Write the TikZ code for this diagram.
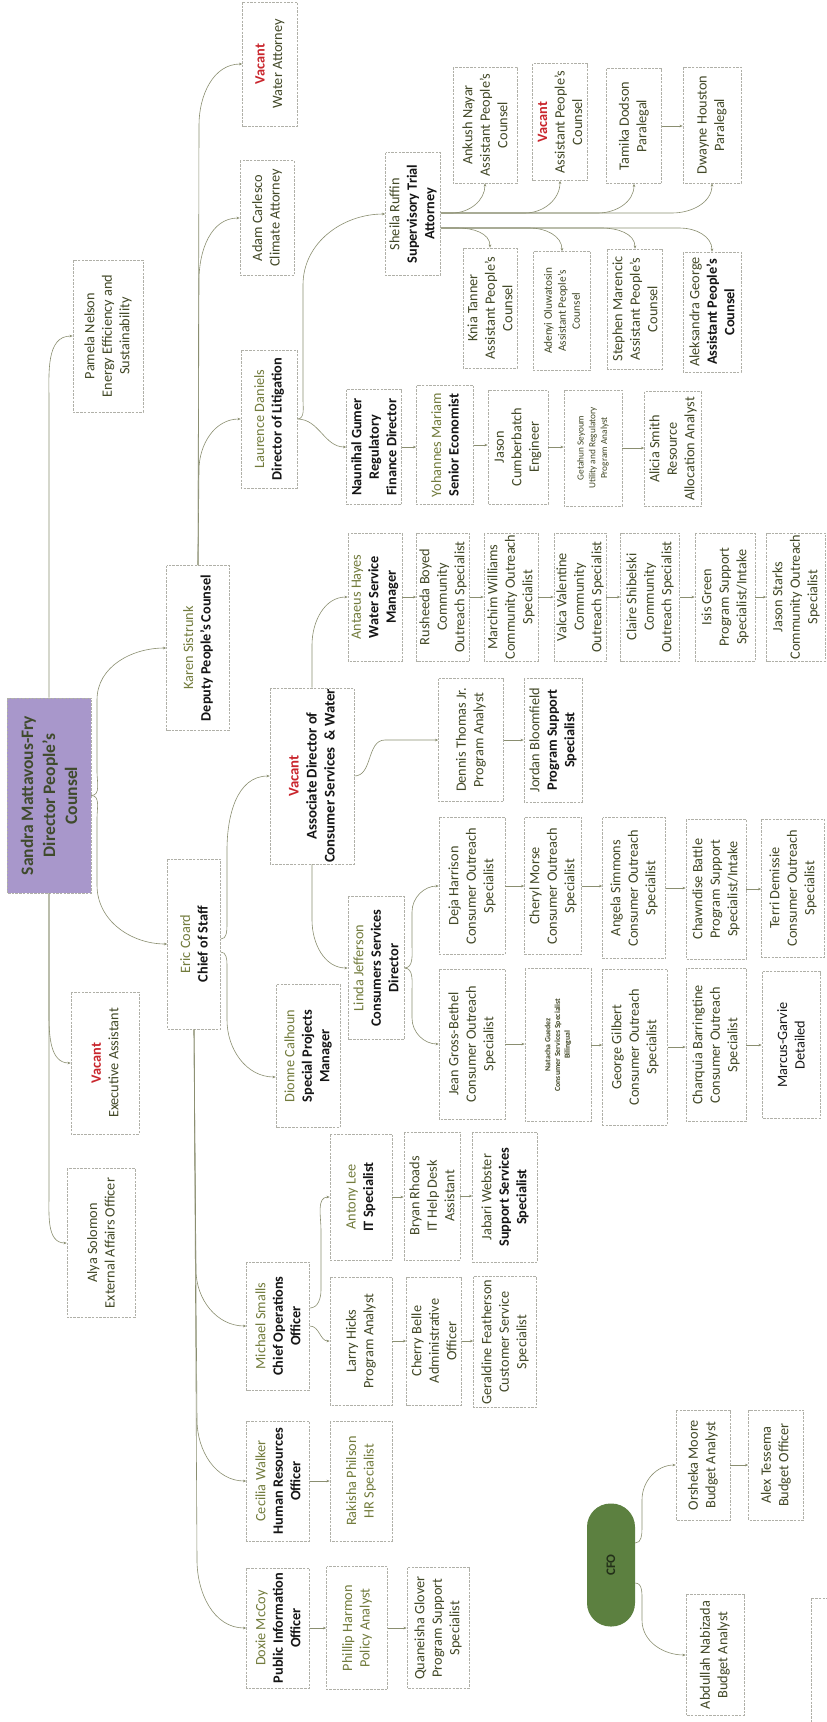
\documentclass[tikz,border=0pt]{standalone}
\usepackage{fontspec}
\setmainfont{Carlito}
\usetikzlibrary{arrows.meta,calc}
\definecolor{boxc}{HTML}{B0B0A8}
\definecolor{connc}{HTML}{8A8E70}
\definecolor{txt}{HTML}{424827}
\definecolor{nm}{HTML}{727B3C}
\definecolor{ttl}{HTML}{151515}
\definecolor{vac}{HTML}{C9252C}
\definecolor{sandrafill}{HTML}{A897CB}
\definecolor{sandratxt}{HTML}{3F4A2C}
\definecolor{cfofill}{HTML}{5C8040}
\definecolor{cfotxt}{HTML}{233019}
\newcommand\fsN{\fontsize{14.3}{17.5}\selectfont}
\newcommand\fsM{\fontsize{11.3}{14}\selectfont}
\newcommand\fsS{\fontsize{9.3}{11.7}\selectfont}
\newcommand\fsT{\fontsize{7.8}{9.7}\selectfont\bfseries}
\newcommand\VacTxt{\textcolor{vac}{\bfseries Vacant}}
\newcommand\Nm[1]{\textcolor{nm}{#1}}
\newcommand\Tl[1]{\textcolor{ttl}{\bfseries #1}}
\newcommand\bx[7][]{\node[box,minimum width=#6pt,minimum height=#5pt,#1] (#2) at (#3,-#4) {#7};}
\tikzset{
  box/.style={draw=boxc, dash pattern=on 2.5pt off 1.2pt, line width=0.6pt, rotate=90,
    align=center, inner sep=1pt, font=\fsN, text=txt},
  conn/.style={draw=connc, line width=0.6pt},
  arr/.style={conn, -{Stealth[length=3.2pt,width=2.6pt]}}
}
\begin{document}
\begin{tikzpicture}[x=1pt,y=1pt]
\fill[white] (0,0) rectangle (827,-1722);
\useasboundingbox (0,0) rectangle (827,-1722);

% ---------- top level ----------
\bx[fill=sandrafill,text=sandratxt,font=\fontsize{17.5}{22}\selectfont\bfseries]{sandra}{49}{795.5}{84}{195}{Sandra Mattavous-Fry\\Director People’s\\Counsel}
\bx{pamela}{108}{336}{70}{152}{Pamela Nelson\\Energy Efficiency and\\Sustainability}
\bx{karen}{198}{648}{63}{165}{\Nm{Karen Sistrunk}\\\Tl{Deputy People’s Counsel}}
\bx{eric}{194}{944}{53}{170}{\Nm{Eric Coard}\\\Tl{Chief of Staff}}
\bx{vexec}{105}{1063}{68}{142}{\VacTxt\\Executive Assistant}
\bx{alya}{101}{1243}{68}{149}{Alya Solomon\\External Affairs Officer}

% ---------- Karen branch ----------
\bx{water}{270}{64}{55}{124}{\VacTxt\\Water Attorney}
\bx{adam}{267}{218}{54}{115}{Adam Carlesco\\Climate Attorney}
\bx{laurence}{269}{419}{56}{138}{\Nm{Laurence Daniels}\\\Tl{Director of Litigation}}
\bx{sheila}{413}{214}{55}{123}{Sheila Ruffin\\\Tl{Supervisory Trial}\\\Tl{Attorney}}
\bx{ankush}{485}{125}{64}{116}{Ankush Nayar\\Assistant People’s\\Counsel}
\bx{vacant2}{560}{122}{55}{117}{\VacTxt\\Assistant People’s\\Counsel}
\bx{tamika}{634}{126}{55}{115}{Tamika Dodson\\Paralegal}
\bx{dwayne}{712}{125}{58}{116}{Dwayne Houston\\Paralegal}
\bx{knia}{490}{308}{54}{120}{Knia Tanner\\Assistant People’s\\Counsel}
\bx[font=\fsM]{adenyi}{562}{311}{57}{119}{Adenyi Oluwatosin\\Assistant People’s\\Counsel}
\bx{stephen}{635}{309}{55}{120}{Stephen Marencic\\Assistant People’s\\Counsel}
\bx{aleks}{712}{312}{58}{120}{Aleksandra George\\\Tl{Assistant People’s}\\\Tl{Counsel}}
\bx{naunihal}{374}{447}{55}{115}{\Tl{Naunihal Gumer}\\\Tl{Regulatory}\\\Tl{Finance Director}}
\bx{yohannes}{445}{445}{57}{119}{\Nm{Yohannes Mariam}\\\Tl{Senior Economist}}
\bx{jasonc}{518}{447}{60}{114}{Jason\\Cumberbatch\\Engineer}
\bx[font=\fsS]{getahun}{593}{448}{58}{116}{Getahun Seyoum\\Utility and Regulatory\\Program Analyst}
\bx{alicia}{673}{449}{57}{115}{Alicia Smith\\Resource\\Allocation Analyst}

% ---------- Eric branch ----------
\bx[font=\fontsize{14.8}{18}\selectfont]{vassoc}{312}{776}{84}{176}{\VacTxt\\\Tl{Associate Director of}\\\Tl{Consumer Services~ \& Water}}
\bx{antaeus}{375}{597}{54}{128}{\Nm{Antaeus Hayes}\\\Tl{Water Service}\\\Tl{Manager}}
\bx{rusheeda}{443}{597}{53}{128}{Rusheeda Boyed\\Community\\Outreach Specialist}
\bx{marchim}{511}{597}{54}{128}{Marchim Williams\\Community Outreach\\Specialist}
\bx{valca}{580}{597}{52}{128}{Valca Valentine\\Community\\Outreach Specialist}
\bx{claire}{650}{597}{59}{128}{Claire Shibelski\\Community\\Outreach Specialist}
\bx{isis}{725}{597}{60}{128}{Isis Green\\Program Support\\Specialist/Intake}
\bx{jasons}{796}{597}{59}{128}{Jason Starks\\Community Outreach\\Specialist}
\bx{dennis}{471}{740}{65}{123}{Dennis Thomas Jr.\\Program Analyst}
\bx{jordan}{553}{740}{58}{124}{Jordan Bloomfield\\\Tl{Program Support}\\\Tl{Specialist}}
\bx{dionne}{308}{1056}{64}{143}{\Nm{Dionne Calhoun}\\\Tl{Special Projects}\\\Tl{Manager}}
\bx{linda}{376}{968}{56}{143}{\Nm{Linda Jefferson}\\\Tl{Consumers Services}\\\Tl{Director}}
\bx{deja}{472}{886}{66}{137}{Deja Harrison\\Consumer Outreach\\Specialist}
\bx{cheryl}{553}{886}{57}{137}{Cheryl Morse\\Consumer Outreach\\Specialist}
\bx{angela}{634}{888}{63}{141}{Angela Simmons\\Consumer Outreach\\Specialist}
\bx{chawn}{716}{889}{60}{140}{Chawndise Battle\\Program Support\\Specialist/Intake}
\bx{terri}{793}{888}{63}{138}{Terri Demissie\\Consumer Outreach\\Specialist}
\bx{jean}{472}{1044}{66}{150}{Jean Gross-Bethel\\Consumer Outreach\\Specialist}
\bx[font=\fsT]{natacha}{558}{1045}{66}{153}{Natacha Guedez\\Consumer Services Specialist\\Bilingual}
\bx{george}{635}{1047}{65}{156}{George Gilbert\\Consumer Outreach\\Specialist}
\bx{charquia}{716}{1045}{60}{153}{Charquia Barringtine\\Consumer Outreach\\Specialist}
\bx[text=ttl]{marcus}{791}{1045}{58}{147}{Marcus-Garvie\\Detailed}
\bx{michael}{278}{1326}{63}{128}{\Nm{Michael Smalls}\\\Tl{Chief Operations}\\\Tl{Officer}}
\bx{cecilia}{278}{1481}{63}{120}{\Nm{Cecilia Walker}\\\Tl{Human Resources}\\\Tl{Officer}}
\bx{doxie}{278}{1628}{63}{120}{\Nm{Doxie McCoy}\\\Tl{Public Information}\\\Tl{Officer}}
\bx[text=nm]{rakisha}{361}{1481}{62}{120}{Rakisha Philson\\HR Specialist}
\bx[text=nm]{phillip}{357}{1628}{61}{123}{Phillip Harmon\\Policy Analyst}
\bx{quan}{438}{1628}{62}{121}{Quaneisha Glover\\Program Support\\Specialist}
\bx{antony}{361}{1197}{62}{126}{\Nm{Antony Lee}\\\Tl{IT Specialist}}
\bx{bryan}{432}{1196}{56}{128}{Bryan Rhoads\\IT Help Desk\\Assistant}
\bx{jabari}{505}{1197}{65}{130}{Jabari Webster\\\Tl{Support Services}\\\Tl{Specialist}}
\bx{larry}{361}{1341}{62}{128}{Larry Hicks\\Program Analyst}
\bx{cherry}{434}{1341}{55}{128}{Cherry Belle\\Administrative\\Officer}
\bx{geraldine}{505}{1342}{63}{131}{Geraldine Featherson\\Customer Service\\Specialist}

% ---------- CFO ----------
\node[rotate=90, fill=cfofill, rounded corners=23.5pt, minimum width=123pt, minimum height=48pt,
  inner sep=0pt, text=cfotxt, font=\fontsize{13}{15}\selectfont\bfseries] (cfo) at (611,-1565) {CFO};
\bx{orsheka}{703}{1465}{54}{110}{Orsheka Moore\\Budget Analyst}
\bx{alex}{776}{1465}{55}{110}{Alex Tessema\\Budget Officer}
\bx{abdullah}{715}{1655}{58}{121}{Abdullah Nabizada\\Budget Analyst}
\bx{edgebox}{845}{1660}{68}{124}{}

% ---------- connectors: Sandra ----------
\draw[arr] (sandra.east) -- (49,-400) to[out=90,in=180] (pamela.north);
\draw[arr] (sandra.south) to[out=0,in=-90] (97,-772) -- (97,-700) to[out=90,in=180] (karen.north);
\draw[arr] (sandra.south) to[out=0,in=90] (97,-818) -- (97,-885) to[out=-90,in=180] (eric.north);
\draw[arr] (sandra.west) -- (49,-1015) to[out=-90,in=180] (vexec.north);
\draw[arr] (sandra.west) -- (49,-1195) to[out=-90,in=180] (alya.north);

% Karen
\draw[arr] (karen.east) -- (199,-470) to[out=90,in=180] (laurence.north);
\draw[arr] (karen.east) -- (199,-280) to[out=90,in=180] (adam.north);
\draw[arr] (karen.east) -- (199,-125) to[out=90,in=180] (water.north);

% Laurence
\draw[arr] (laurence.south) to[out=0,in=-90] (303,-400) -- (303,-285) to[out=90,in=180] (sheila.north);
\draw[arr] (laurence.south) to[out=0,in=180] (naunihal.north);
\draw[arr] (naunihal.south) -- (naunihal.south -| yohannes.north);
\draw[arr] (yohannes.south) -- (yohannes.south -| jasonc.north);
\draw[arr] (jasonc.south) -- (jasonc.south -| getahun.north);
\draw[arr] (getahun.south) -- (getahun.south -| alicia.north);

% Sheila
\coordinate (sheilaT) at ($(sheila.south)+(0,1)$);
\coordinate (sheilaB) at ($(sheila.south)+(0,-14)$);
\draw[arr] (sheilaT) -- (452,-213) to[out=0,in=-90] (ankush.west);
\draw[arr] (sheilaT) -- (525,-213) to[out=0,in=-90] (vacant2.west);
\draw[arr] (sheilaT) -- (598,-213) to[out=0,in=-90] (tamika.west);
\draw[arr] (sheilaT) -- (672,-213) to[out=0,in=-90] (dwayne.west);
\draw[arr] (sheilaB) -- (458,-228) to[out=0,in=90] (knia.east);
\draw[arr] (sheilaB) -- (530,-228) to[out=0,in=90] (adenyi.east);
\draw[arr] (sheilaB) -- (602,-228) to[out=0,in=90] (stephen.east);
\draw[arr] (sheilaB) -- (680,-228) to[out=0,in=90] (aleks.east);
\draw[arr] (tamika.south) -- (tamika.south -| dwayne.north);

% Eric
\draw[arr] ($(eric.south)+(0,5)$) to[out=0,in=-90] (227,-925) -- (227,-850) to[out=90,in=180] (vassoc.north);
\draw[arr] ($(eric.south)+(0,-8)$) to[out=0,in=90] (227,-965) -- (227,-1020) to[out=-90,in=180] ($(dionne.north)+(0,-21)$);
\draw[arr] (eric.west) -- (196,-1270) to[out=-90,in=180] (michael.north);
\draw[arr] (eric.west) -- (197,-1420) to[out=-90,in=180] (cecilia.north);
\draw[arr] (eric.west) -- (197,-1560) to[out=-90,in=180] (doxie.north);

% Michael
\draw[arr] ($(michael.south)+(0,18)$) to[out=0,in=-90] (321,-1290) -- (321,-1230) to[out=90,in=180] (antony.north);
\draw[arr] (michael.south) to[out=0,in=180] (larry.north);
\draw[arr] (larry.south) -- (larry.south -| cherry.north);
\draw[arr] (cherry.south) -- (cherry.south -| geraldine.north);
\draw[arr] (antony.south) -- (antony.south -| bryan.north);
\draw[arr] (bryan.south) -- (bryan.south -| jabari.north);
\draw[arr] (cecilia.south) -- (cecilia.south -| rakisha.north);
\draw[arr] (doxie.south) -- (doxie.south -| phillip.north);
\draw[arr] (phillip.south) -- (phillip.south -| quan.north);

% Vacant associate director
\draw[arr] (vassoc.east) -- (312,-645) to[out=90,in=180] (antaeus.north);
\draw[arr] (vassoc.west) -- (312,-920) to[out=-90,in=180] (linda.north);
\draw[arr] (vassoc.south) to[out=0,in=180] (385,-740) -- (dennis.north);
\draw[arr] (dennis.south) -- (dennis.south -| jordan.north);
\draw[arr] (antaeus.south) -- (antaeus.south -| rusheeda.north);
\draw[arr] (rusheeda.south) -- (rusheeda.south -| marchim.north);
\draw[arr] (marchim.south) -- (marchim.south -| valca.north);
\draw[arr] (valca.south) -- (valca.south -| claire.north);
\draw[arr] (claire.south) -- (claire.south -| isis.north);
\draw[arr] (isis.south) -- (isis.south -| jasons.north);

% Linda
\draw[arr] (linda.south) to[out=0,in=-90] (412,-945) -- (412,-912) to[out=90,in=180] (deja.north);
\draw[arr] (linda.south) to[out=0,in=90] (412,-991) -- (412,-1018) to[out=-90,in=180] (jean.north);
\draw[arr] (deja.south) -- (deja.south -| cheryl.north);
\draw[arr] (cheryl.south) -- (cheryl.south -| angela.north);
\draw[arr] (angela.south) -- (angela.south -| chawn.north);
\draw[arr] (chawn.south) -- (chawn.south -| terri.north);
\draw[arr] (jean.south) -- (jean.south -| natacha.north);
\draw[arr] (natacha.south) -- (natacha.south -| george.north);
\draw[arr] (george.south) -- (george.south -| charquia.north);
\draw[arr] (charquia.south) -- (charquia.south -| marcus.north);

% CFO
\draw[arr] ($(cfo.south)+(0,22)$) to[out=0,in=-90] (642,-1528) -- (642,-1500) to[out=90,in=180] (orsheka.north);
\draw[arr] ($(cfo.south)+(0,-18)$) to[out=0,in=90] (642,-1600) -- (642,-1620) to[out=-90,in=180] (abdullah.north);
\draw[arr] (orsheka.south) -- (orsheka.south -| alex.north);
\end{tikzpicture}
\end{document}
